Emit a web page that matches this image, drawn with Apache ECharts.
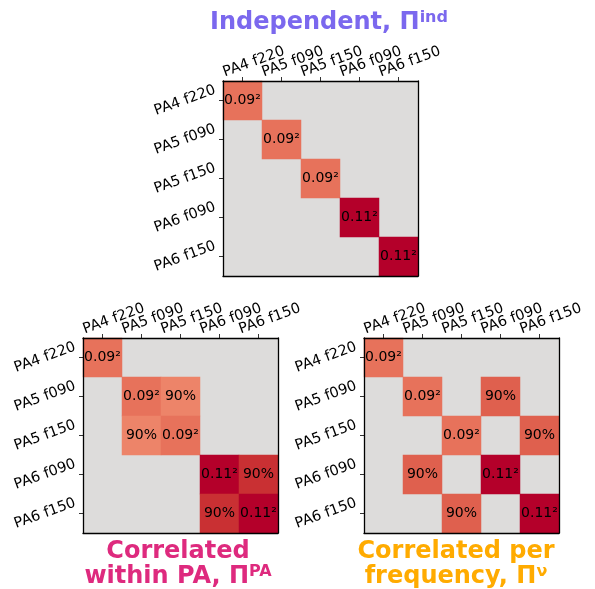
<!DOCTYPE html>
<html>
<head>
<meta charset="utf-8">
<script src="https://cdn.jsdelivr.net/npm/echarts@6/dist/echarts.min.js"></script>
<style>
  html, body { margin: 0; padding: 0; background: #fff; }
  #chart { width: 595px; height: 589px; }
</style>
</head>
<body>
<div id="chart"></div>
<script>
// Channels (array + frequency band) shared by all three covariance models
const categories = ['PA4 f220', 'PA5 f090', 'PA5 f150', 'PA6 f090', 'PA6 f150'];

// Calibration uncertainty per channel
const sigma = [0.09, 0.09, 0.09, 0.11, 0.11];

// Correlation matrices for each model (0 = uncorrelated, masked cell)
const rhoIndependent = [
  [1, 0, 0, 0, 0],
  [0, 1, 0, 0, 0],
  [0, 0, 1, 0, 0],
  [0, 0, 0, 1, 0],
  [0, 0, 0, 0, 1]
];
const rhoWithinPA = [
  [1, 0,   0,   0,   0],
  [0, 1,   0.9, 0,   0],
  [0, 0.9, 1,   0,   0],
  [0, 0,   0,   1,   0.9],
  [0, 0,   0,   0.9, 1]
];
const rhoPerFrequency = [
  [1, 0,   0,   0,   0],
  [0, 1,   0,   0.9, 0],
  [0, 0,   1,   0,   0.9],
  [0, 0.9, 0,   1,   0],
  [0, 0,   0.9, 0,   1]
];

const titles = [
  { main: 'Independent, Π', sup: 'ind' },
  { main: 'Correlated\nwithin PA, Π', sup: 'PA' },
  { main: 'Correlated per\nfrequency, Π', sup: 'ν' }
];

const FONT = 'DejaVu Sans';

// Covariance cells: value = rho_ij * sigma_i * sigma_j; text gives sigma² on
// the diagonal and the correlation coefficient elsewhere.
function covarianceCells(rho) {
  const cells = [];
  for (let i = 0; i < rho.length; i++) {
    for (let j = 0; j < rho[i].length; j++) {
      const r = rho[i][j];
      if (r === 0) continue;
      const v = r * sigma[i] * sigma[j];
      const text = i === j ? sigma[i].toFixed(2) + '²' : Math.round(r * 100) + '%';
      cells.push([j, i, v, text]);
    }
  }
  return cells;
}

const models = [rhoIndependent, rhoWithinPA, rhoPerFrequency];
const grids = [
  { left: 223, top: 81, width: 195, height: 195 },
  { left: 83, top: 338, width: 195, height: 195 },
  { left: 364, top: 338, width: 195, height: 195 }
];

const grid = [], xAxis = [], yAxis = [], series = [];
grids.forEach((g, k) => {
  grid.push(Object.assign({ show: true, backgroundColor: '#dddcdb', borderWidth: 0 }, g));
  const frameLine = { show: true, lineStyle: { color: '#000', width: 1.3 } };
  // labelled top axis
  xAxis.push({
    type: 'category', data: categories, gridIndex: k, position: 'top', z: 10,
    axisLine: frameLine,
    axisTick: { show: true, alignWithLabel: true, length: 4, lineStyle: { color: '#000', width: 0.8 } },
    axisLabel: {
      interval: 0, rotate: -20, align: 'center', verticalAlign: 'middle', margin: 15,
      padding: [0, 0, 0, 24], color: '#000', fontSize: 14.5, fontFamily: FONT
    },
    splitLine: { show: false }
  });
  // bottom edge of the frame
  xAxis.push({
    type: 'category', data: categories, gridIndex: k, position: 'bottom', z: 10,
    axisLine: frameLine, axisTick: { show: false }, axisLabel: { show: false }, splitLine: { show: false }
  });
  // labelled left axis
  yAxis.push({
    type: 'category', data: categories, gridIndex: k, position: 'left', inverse: true, z: 10,
    axisLine: frameLine,
    axisTick: { show: true, alignWithLabel: true, length: 4, lineStyle: { color: '#000', width: 0.8 } },
    axisLabel: {
      interval: 0, rotate: 20, align: 'center', verticalAlign: 'middle', margin: 38,
      padding: [4, 0, 0, 0], color: '#000', fontSize: 14.5, fontFamily: FONT
    },
    splitLine: { show: false }
  });
  // right edge of the frame
  yAxis.push({
    type: 'category', data: categories, gridIndex: k, position: 'right', inverse: true, z: 10,
    axisLine: frameLine, axisTick: { show: false }, axisLabel: { show: false }, splitLine: { show: false }
  });
  series.push({
    type: 'heatmap',
    xAxisIndex: 2 * k, yAxisIndex: 2 * k,
    data: covarianceCells(models[k]),
    itemStyle: { borderWidth: 0 },
    label: {
      show: true, color: '#000', fontSize: 14, fontFamily: FONT,
      formatter: p => p.data[3]
    },
    emphasis: { disabled: true }
  });
});

const titleColors = ['#7b68ee', '#de2a7e', '#ffab00'];
const titlePos = [
  { left: 329, top: 10 },
  { left: 178, top: 539 },
  { left: 456, top: 539 }
];
const title = titles.map((t, k) => ({
  text: '{m|' + t.main.replace('\n', '}\n{m|') + '}{s|' + t.sup + '}',
  left: titlePos[k].left, top: titlePos[k].top, textAlign: 'center', padding: 0,
  textStyle: {
    rich: {
      m: { fontFamily: FONT, fontWeight: 'bold', fontSize: 24, lineHeight: 25, color: titleColors[k] },
      s: { fontFamily: FONT, fontWeight: 'bold', fontSize: 16, lineHeight: 16, verticalAlign: 'top', color: titleColors[k] }
    }
  }
}));

const chart = echarts.init(document.getElementById('chart'), null, { renderer: 'canvas' });
chart.setOption({
  animation: false,
  backgroundColor: '#fff',
  title,
  grid, xAxis, yAxis,
  visualMap: {
    type: 'continuous', show: false, dimension: 2, seriesIndex: [0, 1, 2],
    min: 0.00729, max: 0.0121,
    inRange: { color: ['#ed8469', '#e46a54', '#d74d42', '#c93033', '#b4002a'] }
  },
  series
});
</script>
</body>
</html>
